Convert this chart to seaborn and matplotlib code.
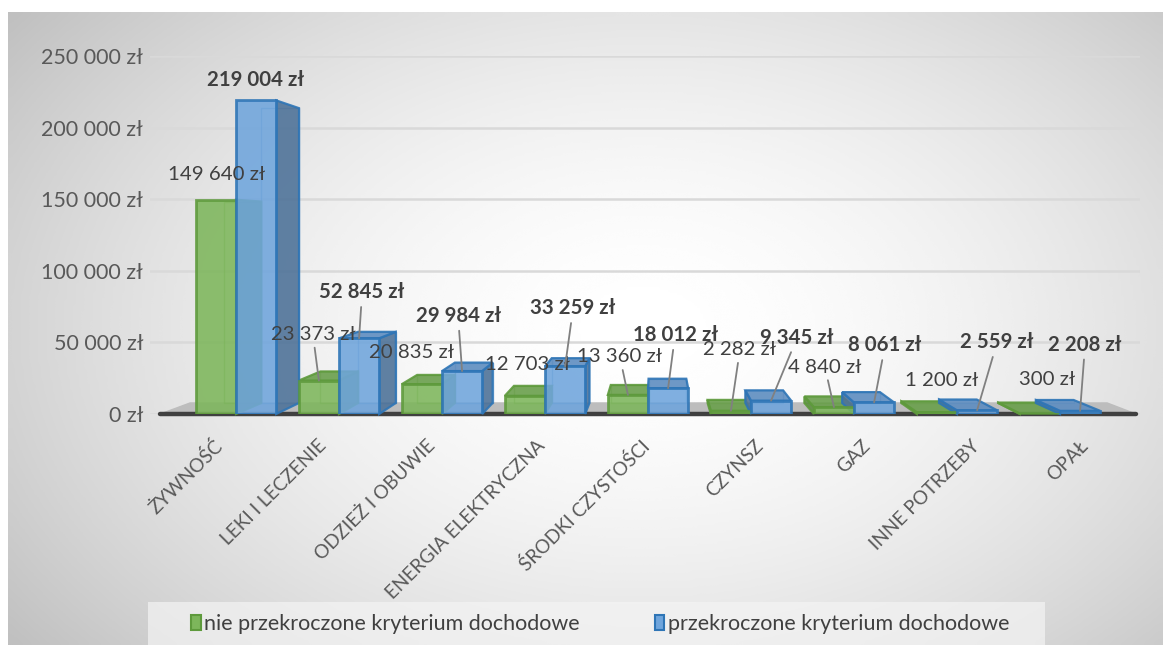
import numpy as np
import pandas as pd
import matplotlib
matplotlib.use("Agg")
import matplotlib.pyplot as plt
import seaborn as sns
from matplotlib.ticker import FuncFormatter
from matplotlib.patches import Patch, Rectangle

# ---------------- data ----------------
categories = ["ŻYWNOŚĆ", "LEKI I LECZENIE", "ODZIEŻ I OBUWIE", "ENERGIA ELEKTRYCZNA",
              "ŚRODKI CZYSTOŚCI", "CZYNSZ", "GAZ", "INNE POTRZEBY", "OPAŁ"]
series_names = ["nie przekroczone kryterium dochodowe", "przekroczone kryterium dochodowe"]
values_green = [149640, 23373, 20835, 12703, 13360, 2282, 4840, 1200, 300]
values_blue = [219004, 52845, 29984, 33259, 18012, 9345, 8061, 2559, 2208]
y_ticks = [0, 50000, 100000, 150000, 200000, 250000]

# label offsets (pixels) relative to bar top -- styling only
label_off_green = [(1, 25), (-6, 46), (-10, 32), (3, 31), (-8, 38), (9, 61), (-9, 40), (5, 32), (7, 34)]
label_off_blue = [(-1, 20), (3, 46), (-4, 55), (8, 58), (7, 53), (26, 63), (11, 57), (20, 68), (5, 66)]
# horizontal shift of category labels (perspective) -- styling only
xlabel_dx = [-23, -21, -16, -9, -7, 3, 7, 14, 19]

df = pd.DataFrame({
    "kategoria": categories * 2,
    "grupa": [series_names[0]] * len(categories) + [series_names[1]] * len(categories),
    "wartosc": values_green + values_blue,
})

def fmt_zl(v):
    return f"{int(round(v)):,}".replace(",", " ") + " zł"

# ---------------- style ----------------
sns.set_theme(style="white")
plt.rcParams["font.family"] = ["Lato", "DejaVu Sans"]

W, H = 1171, 655
fig = plt.figure(figsize=(W / 100, H / 100), dpi=100)
fig.patch.set_facecolor("white")

# background gradient (chart area)
bg = fig.add_axes([8 / W, 10 / H, 1155 / W, 633 / H], zorder=-10)
gx, gy = np.meshgrid(np.linspace(0, 1, 400), np.linspace(0, 1, 240))
d = np.sqrt(((gx - 0.55) / 0.62) ** 2 + ((gy - 0.5) / 0.75) ** 2)
val = 1.0 - 0.25 * np.clip(d / 1.11, 0, 1.1) ** 1.7
bg.imshow(val, cmap="gray", vmin=0, vmax=1, aspect="auto", extent=[0, 1, 0, 1], interpolation="bicubic")
bg.set_axis_off()

# main axes
ax = fig.add_axes([150 / W, 1 - 414 / H, 990 / W, (414 - 56) / H])
ax.patch.set_alpha(0)

green_face, green_edge = "#7DB65B", "#5E9A3C"
blue_face, blue_edge = "#6FA5DC", "#2E75B6"

sns.barplot(data=df, x="kategoria", y="wartosc", hue="grupa", hue_order=series_names,
            palette=[green_face, blue_face], width=0.78, gap=0, ax=ax, legend=False,
            saturation=1)

ax.set_xlim((150 - 236) / 103, (1140 - 236) / 103)
ax.set_ylim(0, 250000)
ax.set_yticks(y_ticks)
ax.yaxis.set_major_formatter(FuncFormatter(lambda v, p: fmt_zl(v)))
ax.set_xlabel("")
ax.set_ylabel("")
for s in ax.spines.values():
    s.set_visible(False)
ax.tick_params(axis="y", length=0, pad=5, labelsize=15.5, labelcolor="#595959")
ax.tick_params(axis="x", length=0, labelbottom=False)
ax.grid(axis="y", color="#D9D9D9", lw=1.8, zorder=0)
ax.set_axisbelow(True)

# category labels
for i, (cat, dx) in enumerate(zip(categories, xlabel_dx)):
    ax.annotate(cat, xy=(i, 0), xytext=(dx, -23), textcoords="offset pixels",
                rotation=45, rotation_mode="anchor", ha="right", va="top",
                fontsize=13.7, color="#595959", annotation_clip=False)

# perspective helpers (display coords)
V = np.array([657.0, H - 230.0])
f = 0.06
to_disp = ax.transData.transform
to_data = ax.transData.inverted().transform

def back(pts):
    pts = np.asarray(pts, float)
    return pts + f * (V - pts)

# floor
xl, xr = ax.get_xlim()
front = to_disp([[xl + 0.1, 0], [xr - 0.04, 0]])
floor = np.vstack([front, back(front[::-1])])
fd = to_data(floor)
ax.fill(fd[:, 0], fd[:, 1], color="#BDBDBD", zorder=1, clip_on=False)
ax.plot([xl + 0.1, xr - 0.04], [0, 0], color="#404040", lw=3.2, zorder=1.1,
        solid_capstyle="round", clip_on=False)

face_styles = [(green_face, green_edge, "#5F8F43", "#6A9F4C"),
               (blue_face, blue_edge, "#4F7399", "#5E8DC0")]

for ci, cont in enumerate(ax.containers):
    face, edge, side_col, top_col = face_styles[ci]
    for p in cont.patches:
        x0, y0 = p.get_x(), p.get_y()
        x1, y1 = x0 + p.get_width(), y0 + p.get_height()
        BL, BR, TR, TL = to_disp([[x0, y0], [x1, y0], [x1, y1], [x0, y1]])
        bBL, bBR, bTR, bTL = back([BL, BR, TR, TL])
        ob = to_data([bBL, bBR, bTR, bTL, bBL])
        ax.plot(ob[:, 0], ob[:, 1], color=edge, lw=1.0, alpha=0.5, zorder=1.5, clip_on=False)
        faces = []
        if TR[0] < V[0]:
            faces.append(([BR, TR, bTR, bBR], side_col))
        if BL[0] > V[0]:
            faces.append(([BL, TL, bTL, bBL], side_col))
        if TL[1] < V[1]:
            faces.append(([TL, TR, bTR, bTL], top_col))
        for poly, col in faces:
            pd_ = to_data(poly)
            ax.fill(pd_[:, 0], pd_[:, 1], facecolor=col, edgecolor=edge, lw=1.6,
                    alpha=0.9, zorder=1.6, clip_on=False)
        p.set_facecolor(face)
        p.set_alpha(0.88)
        p.set_edgecolor(edge)
        p.set_linewidth(2.0)
        p.set_zorder(2)

# data labels
for ci, (cont, offs) in enumerate(zip(ax.containers, [label_off_green, label_off_blue])):
    for p, (dx, dy) in zip(cont.patches, offs):
        cx = p.get_x() + p.get_width() / 2
        top = p.get_height()
        kw = dict(xy=(cx, top), xytext=(dx, dy), textcoords="offset pixels",
                  ha="center", va="center", fontsize=14.7, color="#404040",
                  fontweight="bold" if ci == 1 else "normal", zorder=5,
                  annotation_clip=False)
        if dy > 36:
            kw["arrowprops"] = dict(arrowstyle="-", color="#808080", lw=1.3,
                                    shrinkA=1, shrinkB=0)
        ax.annotate(fmt_zl(top), **kw)

# legend background + legend
fig.patches.append(Rectangle((148 / W, 1 - 645 / H), (1045 - 148) / W, 43 / H,
                             transform=fig.transFigure, facecolor="#F4F4F4", alpha=0.7,
                             edgecolor="none", zorder=-5))
handles = [Patch(facecolor=green_face, edgecolor=green_edge, lw=1.5),
           Patch(facecolor=blue_face, edgecolor=blue_edge, lw=1.5)]
leg = fig.legend(handles, series_names, loc="center", bbox_to_anchor=(600 / W, 1 - 624 / H),
                 ncol=2, fontsize=15.5, frameon=False, handlelength=0.45, handleheight=0.65,
                 handletextpad=0.15, columnspacing=3.5, borderpad=0, borderaxespad=0)
for t in leg.get_texts():
    t.set_color("#404040")

fig.savefig("out.png", dpi=100)
